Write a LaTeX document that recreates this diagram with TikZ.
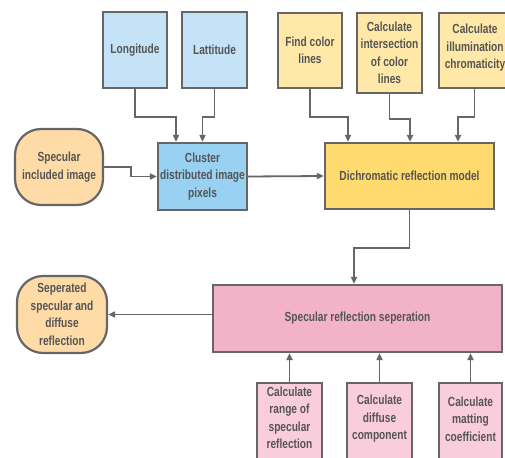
\documentclass[tikz,border=0pt]{standalone}
\usepackage{fontspec}
\newfontfamily\lblfont[FakeStretch=0.77]{Liberation Sans Bold}
\usetikzlibrary{arrows.meta,calc}
\definecolor{bord}{HTML}{666666}
\definecolor{txtc}{HTML}{555555}
\definecolor{lblue}{HTML}{C5E3F6}
\definecolor{dblue}{HTML}{99D1F2}
\definecolor{lyel}{HTML}{FFE8A8}
\definecolor{dyel}{HTML}{FFDA6E}
\definecolor{orng}{HTML}{FFDBA8}
\definecolor{dpink}{HTML}{F2B3C8}
\definecolor{lpink}{HTML}{F9CDDC}
\tikzset{
  box/.style={draw=bord, line width=2.2pt, rectangle, inner sep=1pt, align=center,
    text=txtc, font=\fontsize{13.2}{17.5}\lblfont},
  term/.style={box, rounded corners=26pt},
  txt/.style={align=center, text=txtc, font=\fontsize{13.2}{17.5}\lblfont, inner sep=0pt},
  arr/.style={draw=bord, line width=1.8pt, -{Triangle[length=7pt,width=6pt]}},
}
\begin{document}
\begin{tikzpicture}[x=1pt,y=-1pt]
\useasboundingbox (0,0) rectangle (505,457);
\clip (0,0) rectangle (505,457);
\fill[white] (0,0) rectangle (505,457);
% top blue
\node[box, fill=lblue, minimum width=64, minimum height=76] (lon) at (135,50) {Longitude};
\node[box, fill=lblue, minimum width=65, minimum height=76] (lat) at (214.5,50) {Lattitude};
% top yellow
\node[box, fill=lyel, minimum width=64, minimum height=75] (fcl) at (310,50.5) {Find color\\lines};
\node[box, fill=lyel, minimum width=65, minimum height=80] (int) at (389.5,53) {Calculate\\intersection\\of color\\lines};
\node[box, fill=lyel, minimum width=71, minimum height=75] (ill) at (474.5,50.5) {};
\node[txt] (illt) at (475,48) {Calculate\\illumination\\chromaticity};
% middle row
\node[term, fill=orng, minimum width=88, minimum height=76] (spi) at (59,167) {Specular\\included image};
\node[box, fill=dblue, minimum width=89, minimum height=67] (clu) at (202.5,176.5) {Cluster\\distributed image\\pixels};
\node[box, fill=dyel, minimum width=169, minimum height=66] (dic) at (409.5,176) {Dichromatic reflection model};
% separation row
\node[box, fill=dpink, minimum width=289, minimum height=67] (sep) at (357.5,318.5) {Specular reflection seperation};
\node[term, fill=orng, minimum width=90, minimum height=77] (sed) at (62,314.5) {Seperated\\specular and\\diffuse\\reflection};
% bottom boxes
\node[box, fill=lpink, minimum width=65, minimum height=96, anchor=north] (r1) at (289.5,382) {};
\node[txt] (r1t) at (289.5,418) {Calculate\\range of\\specular\\reflection};
\node[box, fill=lpink, minimum width=65, minimum height=96, anchor=north] (r2) at (379.5,382) {};
\node[txt] (r2t) at (379.5,419) {Calculate\\diffuse\\component};
\node[box, fill=lpink, minimum width=63, minimum height=96, anchor=north] (r3) at (470.5,382) {};
\node[txt] (r3t) at (470.5,419) {Calculate\\matting\\coefficient};
% connectors
\draw[arr] (lon.south) -- ++(0,28) -| ([xshift=-26.5]clu.north);
\draw[arr] (lat.south) -- ++(0,28) -| (clu.north);
\draw[arr] (spi.east) -- ++(27,0) |- (clu.west);
\draw[arr] (clu.east) -- (dic.west);
\draw[arr] (fcl.south) -- ++(0,28) -| ([xshift=-61.5]dic.north);
\draw[arr] (int.south) -- ++(0,25) -| ([xshift=0.5]dic.north);
\draw[arr] (ill.south) -- ++(0,28) -| ([xshift=48.5]dic.north);
\draw[arr] (dic.south) -- ++(0,38) -| ([xshift=-3.5]sep.north);
\draw[arr] (sep.west |- sed.east) -- (sed.east);
\draw[arr] (r1.north) -- (r1.north |- sep.south);
\draw[arr] (r2.north) -- (r2.north |- sep.south);
\draw[arr] (r3.north) -- (r3.north |- sep.south);
\end{tikzpicture}
\end{document}
